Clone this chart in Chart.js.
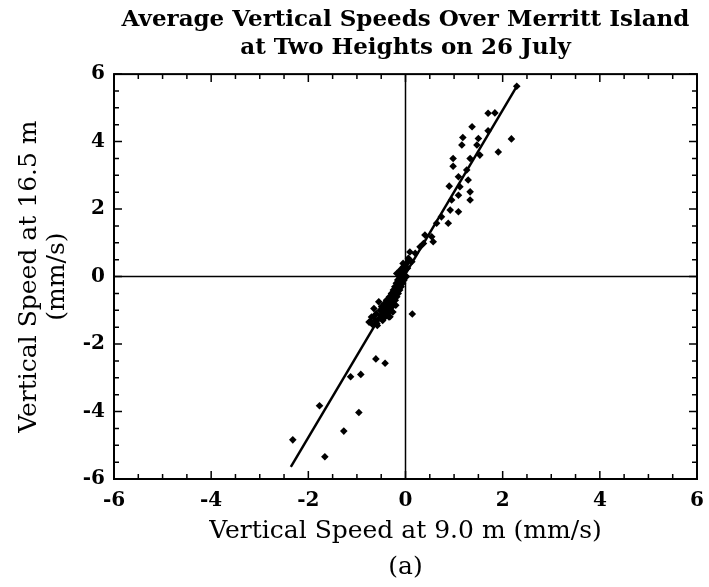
<!DOCTYPE html>
<html>
<head>
<meta charset="utf-8">
<script src="https://cdn.jsdelivr.net/npm/chart.js@4.4.0/dist/chart.umd.min.js"></script>
<style>
  html, body { margin: 0; padding: 0; background: #fff; }
  #wrap { width: 709px; height: 587px; }
</style>
</head>
<body>
<div id="wrap"><canvas id="chart"></canvas></div>
<script>
// 26 July, Merritt Island: average vertical speeds (mm/s), 9.0 m vs 16.5 m
const speed9m = [
  -2.32, -1.77, -1.66, -1.27, -1.13, -0.96, -0.92, -0.61, -0.42, 0.14,
  -0.75, -0.70, -0.68, -0.62, -0.60, -0.58, -0.55, -0.52, -0.50, -0.48,
  -0.47, -0.45, -0.43, -0.42, -0.40, -0.38, -0.37, -0.35, -0.33, -0.32,
  -0.30, -0.29, -0.28, -0.27, -0.25, -0.25, -0.23, -0.22, -0.21, -0.20,
  -0.19, -0.18, -0.17, -0.16, -0.15, -0.14, -0.13, -0.12, -0.11, -0.10,
  -0.09, -0.08, -0.07, -0.06, -0.05, -0.04, -0.03, -0.02, 0.00, 0.02,
  0.04, 0.06, -0.34, -0.26, -0.55, -0.65, -0.20, -0.73, -0.59, -0.66,
  -0.49, -0.32, -0.39, -0.18,
  -0.11, -0.18, -0.05, 0.13, 0.06, 0.09, 0.20, 0.30, 0.37, 0.40,
  0.54, 0.57, 0.64, 0.74, 0.88, 0.92, 0.95, 1.09, 0.90, 1.12,
  1.33, 1.09, 1.33, 1.29, 1.09, 1.26, 0.98, 0.98, 1.33, 1.53,
  1.47, 1.50, 1.16, 1.18, 1.91, 2.18, 1.70, 1.37, 1.84, 1.70, 2.29
];
const speed16m = [
  -4.84, -3.83, -5.34, -4.58, -2.97, -4.03, -2.90, -2.44, -2.57, -1.11,
  -1.35, -1.20, -1.42, -1.30, -1.10, -1.45, -1.25, -1.00, -1.15, -0.90,
  -1.30, -1.05, -0.80, -1.20, -0.95, -0.70, -1.10, -0.85, -0.60, -1.00,
  -0.75, -0.50, -0.90, -0.65, -0.40, -0.80, -0.55, -0.30, -0.70, -0.45,
  -0.20, -0.60, -0.35, -0.10, -0.50, -0.25, 0.00, -0.40, -0.15, 0.10,
  -0.30, -0.05, 0.20, -0.20, 0.05, 0.30, -0.10, 0.15, 0.35, 0.00,
  0.25, 0.45, -1.20, -1.05, -0.75, -0.95, -0.85, -1.34, -1.39, -1.19,
  -0.89, -1.19, -0.70, -0.40,
  0.19, 0.09, 0.39, 0.44, 0.54, 0.73, 0.69, 0.88, 0.98, 1.23,
  1.18, 1.03, 1.58, 1.77, 1.58, 1.97, 2.27, 1.92, 2.68, 2.66,
  2.51, 2.41, 2.27, 2.86, 2.96, 3.16, 3.50, 3.27, 3.50, 3.60,
  3.90, 4.09, 3.90, 4.12, 3.69, 4.08, 4.32, 4.44, 4.85, 4.84, 5.64
];
// least-squares line drawn across the data range
const fitX = [-2.36, 2.29];
const fitY = [-5.64, 5.64];
const axisMin = -6, axisMax = 6, majorStep = 2, minorStep = 0.5;

const serif = '"DejaVu Serif", "Liberation Serif", serif';

const frameTicks = {
  id: 'frameTicks',
  beforeDatasetsDraw(chart) {
    const { ctx, chartArea: a, scales: { x, y } } = chart;
    ctx.save();
    ctx.strokeStyle = '#000';
    ctx.lineWidth = 1.5;
    const x0 = x.getPixelForValue(0), y0 = y.getPixelForValue(0);
    ctx.beginPath();
    ctx.moveTo(x0, a.top); ctx.lineTo(x0, a.bottom);
    ctx.moveTo(a.left, y0); ctx.lineTo(a.right, y0);
    ctx.stroke();
    ctx.restore();
  },
  afterDraw(chart) {
    const { ctx, chartArea: a, scales: { x, y } } = chart;
    ctx.save();
    ctx.strokeStyle = '#000';
    ctx.lineWidth = 2;
    ctx.strokeRect(a.left, a.top, a.right - a.left, a.bottom - a.top);
    ctx.lineWidth = 1.5;
    ctx.beginPath();
    for (let v = axisMin; v <= axisMax + 1e-9; v += minorStep) {
      const len = (Math.abs(v % majorStep) < 1e-9) ? 8 : 5;
      const px = x.getPixelForValue(v);
      ctx.moveTo(px, a.bottom); ctx.lineTo(px, a.bottom - len);
      ctx.moveTo(px, a.top); ctx.lineTo(px, a.top + len);
      const py = y.getPixelForValue(v);
      ctx.moveTo(a.left, py); ctx.lineTo(a.left + len, py);
      ctx.moveTo(a.right, py); ctx.lineTo(a.right - len, py);
    }
    ctx.stroke();
    ctx.restore();
  }
};

new Chart(document.getElementById('chart'), {
  type: 'scatter',
  data: {
    datasets: [{
      label: 'fit',
      data: fitX.map((v, i) => ({ x: v, y: fitY[i] })),
      showLine: true,
      borderColor: '#000',
      borderWidth: 2.5,
      pointRadius: 0,
      order: 2
    }, {
      label: 'averages',
      data: speed9m.map((v, i) => ({ x: v, y: speed16m[i] })),
      pointStyle: 'rectRot',
      pointRadius: 3.8,
      backgroundColor: '#000',
      borderColor: '#000',
      borderWidth: 0,
      order: 1
    }]
  },
  options: {
    responsive: true,
    maintainAspectRatio: false,
    animation: false,
    layout: { padding: { left: 0, right: 12, top: 0, bottom: 0 } },
    plugins: {
      legend: { display: false },
      tooltip: { enabled: false },
      title: {
        display: true,
        fullSize: false,
        text: ['Average Vertical Speeds Over Merritt Island', 'at Two Heights on 26 July'],
        color: '#000',
        font: { family: serif, size: 23, weight: 'bold', lineHeight: 1.22 },
        padding: { top: 6, bottom: 12 }
      }
    },
    scales: {
      x: {
        min: axisMin, max: axisMax,
        afterFit(s) { s.height = 108; s.paddingRight = 0; s.paddingLeft = 0; },
        grid: { display: false, drawTicks: false },
        border: { display: false },
        ticks: {
          stepSize: majorStep,
          padding: 10,
          color: '#000',
          font: { family: serif, size: 20, weight: 'bold' }
        },
        title: {
          display: true,
          text: ['Vertical Speed at 9.0 m (mm/s)', '(a)'],
          color: '#000',
          font: { family: serif, size: 25, lineHeight: 1.44 },
          padding: { top: 0, bottom: 2 }
        }
      },
      y: {
        min: axisMin, max: axisMax,
        afterFit(s) { s.width = 114; },
        grid: { display: false, drawTicks: false },
        border: { display: false },
        ticks: {
          stepSize: majorStep,
          padding: 9,
          color: '#000',
          font: { family: serif, size: 20, weight: 'bold' }
        },
        title: {
          display: true,
          text: ['Vertical Speed at 16.5 m', '(mm/s)'],
          color: '#000',
          font: { family: serif, size: 25, lineHeight: 1.1 },
          padding: { top: 16, bottom: 0 }
        }
      }
    }
  },
  plugins: [frameTicks]
});
</script>
</body>
</html>
